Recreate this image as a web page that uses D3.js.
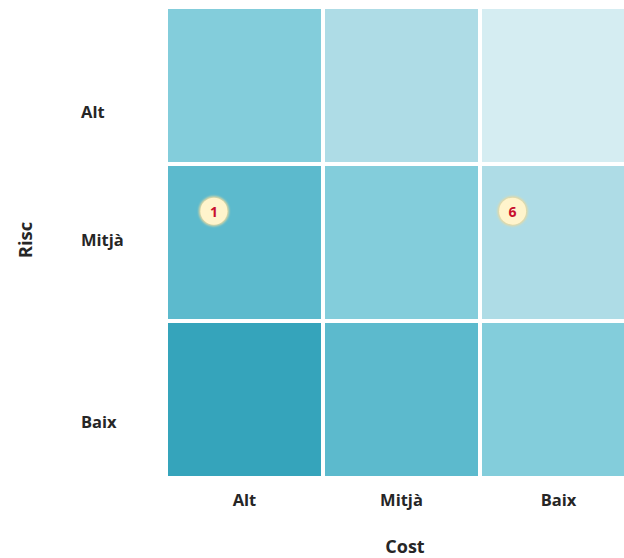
<!DOCTYPE html>
<html>
<head>
<meta charset="utf-8">
<script src="https://cdn.jsdelivr.net/npm/d3@7"></script>
<style>
  html, body { margin: 0; padding: 0; background: #ffffff; overflow: hidden; }
  svg { display: block; }
  text { font-family: "Open Sans", "Noto Sans", sans-serif; font-weight: 700; fill: #262626; }
</style>
</head>
<body>
<svg id="chart" width="624" height="558"></svg>
<script>
// Axis categories
const costCategories = ["Alt", "Mitjà", "Baix"];
const riskCategories = ["Alt", "Mitjà", "Baix"];

// Priority level per cell: rows = risc (Alt, Mitjà, Baix), columns = cost (Alt, Mitjà, Baix)
const priorityLevels = [
  [2, 1, 0],
  [3, 2, 1],
  [4, 3, 2]
];

// Colour ramp for the priority levels, light to dark
const levelColors = ["#d5edf2", "#aedce6", "#83cddb", "#5cbacd", "#35a4bb"];

// Numbered items placed on the matrix
const itemIds = [1, 6];
const itemCost = ["Alt", "Baix"];
const itemRisk = ["Mitjà", "Mitjà"];

const svg = d3.select("#chart");

const gridLeft = 168, gridTop = 9, cellStep = 157, cellGap = 4;
const x = d3.scaleBand()
  .domain(costCategories)
  .range([gridLeft, gridLeft + cellStep * costCategories.length - cellGap])
  .paddingInner(cellGap / cellStep)
  .paddingOuter(0);
const y = d3.scaleBand()
  .domain(riskCategories)
  .range([gridTop, gridTop + cellStep * riskCategories.length - cellGap])
  .paddingInner(cellGap / cellStep)
  .paddingOuter(0);

const color = d3.scaleOrdinal().domain(d3.range(levelColors.length)).range(levelColors);

const cells = [];
riskCategories.forEach((r, i) => {
  costCategories.forEach((c, j) => {
    cells.push({ risk: r, cost: c, level: priorityLevels[i][j] });
  });
});

svg.append("g")
  .selectAll("rect")
  .data(cells)
  .join("rect")
  .attr("x", d => x(d.cost))
  .attr("y", d => y(d.risk))
  .attr("width", x.bandwidth())
  .attr("height", y.bandwidth())
  .attr("fill", d => color(d.level));

// Y axis (risc) labels
const yLabelNudge = { "Alt": 26, "Mitjà": -3, "Baix": 22 };
svg.append("g")
  .selectAll("text")
  .data(riskCategories)
  .join("text")
  .attr("x", 81)
  .attr("y", d => y(d) + y.bandwidth() / 2 + yLabelNudge[d])
  .attr("dominant-baseline", "central")
  .attr("font-size", 16.5)
  .text(d => d);

// X axis (cost) labels
svg.append("g")
  .selectAll("text")
  .data(costCategories)
  .join("text")
  .attr("x", d => x(d) + x.bandwidth() / 2)
  .attr("y", 499)
  .attr("dominant-baseline", "central")
  .attr("text-anchor", "middle")
  .attr("font-size", 16.5)
  .text(d => d);

// Axis titles
svg.append("text")
  .attr("transform", "translate(24,240) rotate(-90)")
  .attr("text-anchor", "middle")
  .attr("dominant-baseline", "central")
  .attr("font-size", 18.5)
  .text("Risc");

svg.append("text")
  .attr("x", 405)
  .attr("y", 553)
  .attr("text-anchor", "middle")
  .attr("font-size", 18)
  .text("Cost");

// Item markers
const defs = svg.append("defs");
const glow = defs.append("filter").attr("id", "soft").attr("x", "-30%").attr("y", "-30%").attr("width", "160%").attr("height", "160%");
glow.append("feGaussianBlur").attr("stdDeviation", 0.8);

const items = itemIds.map((id, i) => ({ id, cost: itemCost[i], risk: itemRisk[i] }));
const itemOffsetX = { "Alt": 0.3, "Mitjà": 0.3, "Baix": 0.2 };

const marker = svg.append("g")
  .selectAll("g")
  .data(items)
  .join("g")
  .attr("transform", d => `translate(${x(d.cost) + x.bandwidth() * itemOffsetX[d.cost]},${y(d.risk) + y.bandwidth() * 0.295})`);

marker.append("circle")
  .attr("r", 15)
  .attr("fill", "#e8d9a0")
  .attr("filter", "url(#soft)");
marker.append("circle")
  .attr("r", 13.5)
  .attr("fill", "#fff4cc");
marker.append("text")
  .attr("text-anchor", "middle")
  .attr("dominant-baseline", "central")
  .attr("font-size", 14)
  .style("fill", "#c8102e")
  .text(d => d.id);
</script>
</body>
</html>
